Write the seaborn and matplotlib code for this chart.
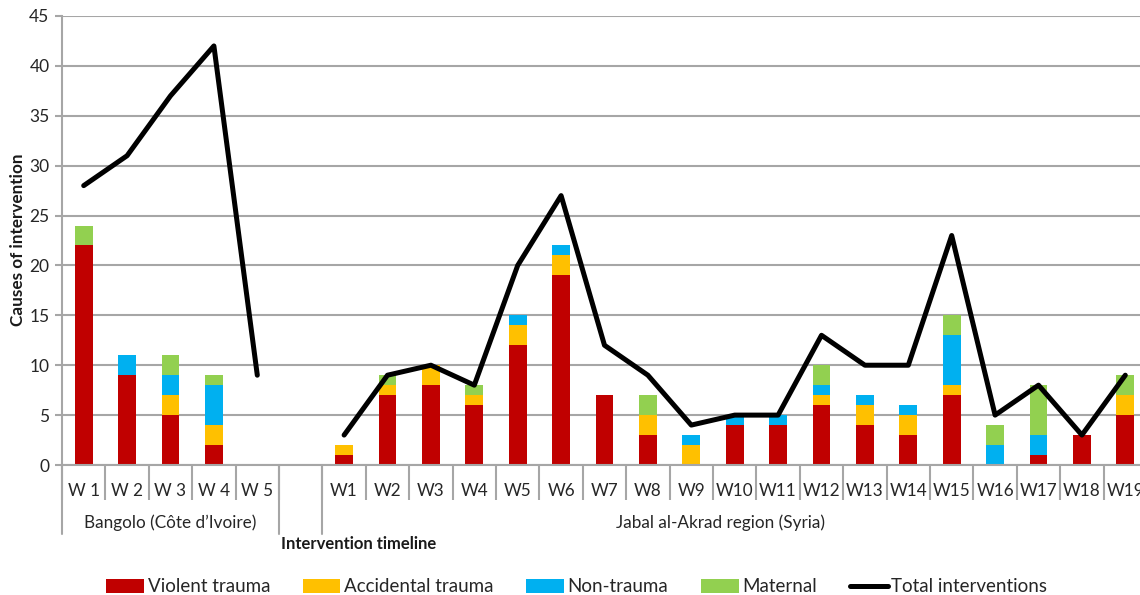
import matplotlib
matplotlib.use("Agg")
import matplotlib.pyplot as plt
import matplotlib.transforms as mtransforms
from matplotlib.patches import Patch
from matplotlib.lines import Line2D
import numpy as np
import pandas as pd
import seaborn as sns

# ---- data ----
categories = ["W 1", "W 2", "W 3", "W 4", "W 5", "",
              "W1", "W2", "W3", "W4", "W5", "W6", "W7", "W8", "W9", "W10",
              "W11", "W12", "W13", "W14", "W15", "W16", "W17", "W18", "W19"]
groups = ["Bangolo"] * 5 + ["gap"] + ["Syria"] * 19
group_labels = {"Bangolo": "Bangolo (Côte d\u2019Ivoire)",
                "Syria": "Jabal al-Akrad region (Syria)"}

violent    = [22, 9, 5, 2, 0, np.nan, 1, 7, 8, 6, 12, 19, 7, 3, 0, 4, 4, 6, 4, 3, 7, 0, 1, 3, 5]
accidental = [0, 0, 2, 2, 0, np.nan, 1, 1, 2, 1, 2, 2, 0, 2, 2, 0, 0, 1, 2, 2, 1, 0, 0, 0, 2]
nontrauma  = [0, 2, 2, 4, 0, np.nan, 0, 0, 0, 0, 1, 1, 0, 0, 1, 1, 1, 1, 1, 1, 5, 2, 2, 0, 0]
maternal   = [2, 0, 2, 1, 0, np.nan, 0, 1, 0, 1, 0, 0, 0, 2, 0, 0, 0, 2, 0, 0, 2, 2, 5, 0, 2]
total      = [28, 31, 37, 42, 9, np.nan, 3, 9, 10, 8, 20, 27, 12, 9, 4, 5, 5, 13, 10, 10, 23, 5, 8, 3, 9]

series_names = ["Violent trauma", "Accidental trauma", "Non-trauma", "Maternal"]
colors = ["#C00000", "#FFC000", "#00B0F0", "#92D050"]

df = pd.DataFrame({"cat": categories, "group": groups,
                   "violent": violent, "accidental": accidental,
                   "nontrauma": nontrauma, "maternal": maternal,
                   "total": total})
df["pos"] = np.arange(len(df))
df["c1"] = df["violent"]
df["c2"] = df["c1"] + df["accidental"]
df["c3"] = df["c2"] + df["nontrauma"]
df["c4"] = df["c3"] + df["maternal"]

# ---- figure ----
sns.set_style("white")
plt.rcParams["font.family"] = ["Lato", "DejaVu Sans"]
fig = plt.figure(figsize=(11.40, 5.95), dpi=100)
ax = fig.add_axes([62 / 1140, 130 / 595, 1085 / 1140, 449 / 595])

grid_c = "#A6A6A6"
txt_c = "#262626"
ax.set_axisbelow(True)
ax.yaxis.grid(True, color=grid_c, linewidth=1.5)

# stacked bars drawn as cumulative layers, tallest first
for col, c in zip(["c4", "c3", "c2", "c1"], colors[::-1]):
    sns.barplot(data=df, x="cat", y=col, order=categories, color=c,
                width=0.41, ax=ax, saturation=1, linewidth=0, errorbar=None)

# total line, separate per region (gap in between)
for g in ["Bangolo", "Syria"]:
    sub = df[df["group"] == g]
    sns.lineplot(x=sub["pos"].values, y=sub["total"].values, ax=ax,
                 color="black", linewidth=3.6, sort=False)

ax.set_ylim(0, 45)
ax.set_xlim(-0.5, len(categories) - 0.5)
ax.set_yticks(np.arange(0, 46, 5))
ax.set_xlabel("")
ax.set_ylabel("")

for s in ["top", "right"]:
    ax.spines[s].set_visible(False)
for s in ["left", "bottom"]:
    ax.spines[s].set_color(grid_c)
    ax.spines[s].set_linewidth(1.5)

ax.tick_params(axis="y", which="major", direction="out", length=5, width=1.5,
               color=grid_c, labelsize=12.5, labelcolor=txt_c, pad=4, left=True)
ax.tick_params(axis="x", which="major", length=0, labelsize=12.3,
               labelcolor=txt_c, pad=13)

# category separators
bounds = np.arange(len(categories) + 1) - 0.5
ax.set_xticks(bounds, minor=True)
ax.tick_params(axis="x", which="minor", direction="out", length=25,
               width=1.5, color=grid_c, bottom=True)
trans = mtransforms.blended_transform_factory(ax.transData, ax.transAxes)
long_bounds = [-0.5, 4.5, 5.5]
y_long = -(534 - 465) / 449
for b in long_bounds:
    ax.plot([b, b], [0, y_long], transform=trans, color=grid_c,
            linewidth=1.5, clip_on=False)

# group labels
y_grp = -(523 - 465) / 449
for g, lab in group_labels.items():
    xs = df.loc[df["group"] == g, "pos"]
    xc = xs.mean() if g == "Bangolo" else xs.mean() - 0.33
    ax.text(xc, y_grp, lab, transform=trans, ha="center", va="center",
            fontsize=12.3, color=txt_c)

fig.text(359 / 1140, 1 - 544 / 595, "Intervention timeline", ha="center",
         va="center", fontsize=12, fontweight="bold", color="#1a1a1a")
fig.text(18 / 1140, 1 - 240 / 595, "Causes of intervention", ha="center",
         va="center", rotation=90, fontsize=12.3, fontweight="bold",
         color="#1a1a1a")

handles = [Patch(facecolor=c, edgecolor="none", label=n)
           for c, n in zip(colors, series_names)]
handles.append(Line2D([0], [0], color="black", linewidth=3.6,
                      label="Total interventions"))
fig.legend(handles=handles, loc="center", bbox_to_anchor=(0.506, 1 - 587 / 595),
           ncol=5, frameon=False, fontsize=13.5, handlelength=2.0,
           handleheight=0.7, handletextpad=0.2, columnspacing=1.75,
           labelcolor=txt_c)

fig.savefig("out.png", dpi=100)
